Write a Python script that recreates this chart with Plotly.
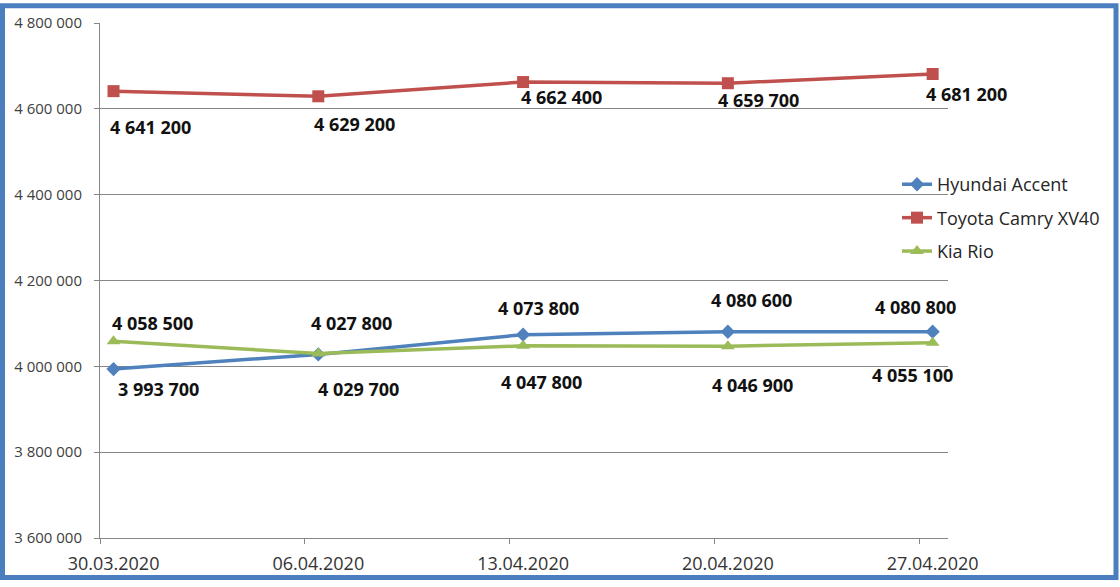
import plotly.graph_objects as go

dates = ["30.03.2020", "06.04.2020", "13.04.2020", "20.04.2020", "27.04.2020"]
hyundai = [3993700, 4027800, 4073800, 4080600, 4080800]
toyota = [4641200, 4629200, 4662400, 4659700, 4681200]
kia = [4058500, 4029700, 4047800, 4046900, 4055100]
y_ticks = [3600000, 3800000, 4000000, 4200000, 4400000, 4600000, 4800000]

def fmt(v):
    return f"{v:,}".replace(",", " ")

# label offsets in pixels (dx, dy) relative to each point
off_h = [(45, -20), (33, 31), (15, 27), (24, 32), (-17, 25)]
off_t = [(37, -36), (36, -28), (38, -15), (31, -17), (34, -20)]
off_k = [(39, 18), (40, -35), (18, -36), (25, -39), (-20, -32)]

xs = list(range(len(dates)))
C_BLUE, C_RED, C_GREEN = "#4f81bd", "#c0504d", "#9bbb59"

fig = go.Figure()
series = [
    ("Hyundai Accent", hyundai, C_BLUE, "diamond", 11, "g1"),
    ("Toyota Camry XV40", toyota, C_RED, "square", 12, "g2"),
    ("Kia Rio", kia, C_GREEN, "triangle-up", 12, "g3"),
]
for name, vals, col, sym, sz, grp in series:
    fig.add_trace(go.Scatter(
        x=xs, y=vals, name=name, mode="lines+markers", legendgroup=grp,
        line=dict(color=col, width=3.5),
        marker=dict(symbol=sym, size=sz, color=col),
    ))

# invisible trace for offset tick axis
fig.add_trace(go.Scatter(x=xs, y=hyundai, xaxis="x2", showlegend=False,
                         mode="markers", marker=dict(opacity=0), hoverinfo="skip"))

annotations = []
for vals, offs in [(hyundai, off_h), (toyota, off_t), (kia, off_k)]:
    for i, v in enumerate(vals):
        dx, dy = offs[i]
        annotations.append(dict(
            x=xs[i], y=v, xref="x", yref="y", text="<b>" + fmt(v) + "</b>",
            showarrow=False, xshift=dx, yshift=dy,
            font=dict(family="Open Sans", size=18, color="#111111"),
        ))
fig.update_layout(annotations=annotations)

W, H = 1120, 587
L, R, T, B = 100, 948, 20, 542
pw, ph = R - L, B - T
def px(x): return (x - L) / pw
def py(y): return (B - y) / ph

fig.add_shape(type="rect", xref="paper", yref="paper",
              x0=px(2.5), x1=px(1116), y0=py(582), y1=py(2.5),
              line=dict(color="#4a7ebf", width=5), layer="above")

fig.update_layout(
    width=W, height=H,
    margin=dict(l=L, r=W - R, t=T, b=H - B),
    paper_bgcolor="white", plot_bgcolor="white",
    showlegend=True,
    legend=dict(x=px(897), y=py(165), xanchor="left", yanchor="top",
                font=dict(family="Open Sans", size=18, color="#262626"),
                tracegroupgap=7, bgcolor="rgba(0,0,0,0)"),
    xaxis=dict(
        range=[-0.066, 4.075], tickvals=xs, ticktext=dates,
        ticks="", showgrid=False, zeroline=False,
        showline=True, linecolor="#868686", linewidth=1,
        ticklabelstandoff=9,
        tickfont=dict(family="Open Sans", size=18, color="#333333"),
    ),
    xaxis2=dict(
        range=[-0.066, 4.075], overlaying="x", anchor="y",
        tickvals=[v - 0.066 for v in xs], showticklabels=False,
        ticks="outside", ticklen=5, tickcolor="#868686", showgrid=False,
        zeroline=False, showline=False,
    ),
    yaxis=dict(
        range=[3600000, 4800000], tickvals=y_ticks,
        ticktext=[fmt(v) for v in y_ticks],
        ticks="outside", ticklen=5, tickcolor="#868686",
        showgrid=True, gridcolor="#868686", gridwidth=1, zeroline=False,
        showline=True, linecolor="#868686", linewidth=1,
        ticklabelstandoff=9,
        tickfont=dict(family="Open Sans", size=15, color="#404040"),
    ),
)

fig.write_html(
    "out.html",
    config={"displayModeBar": False},
    post_script="document.body.style.margin='0';document.body.style.overflow='hidden';",
)
